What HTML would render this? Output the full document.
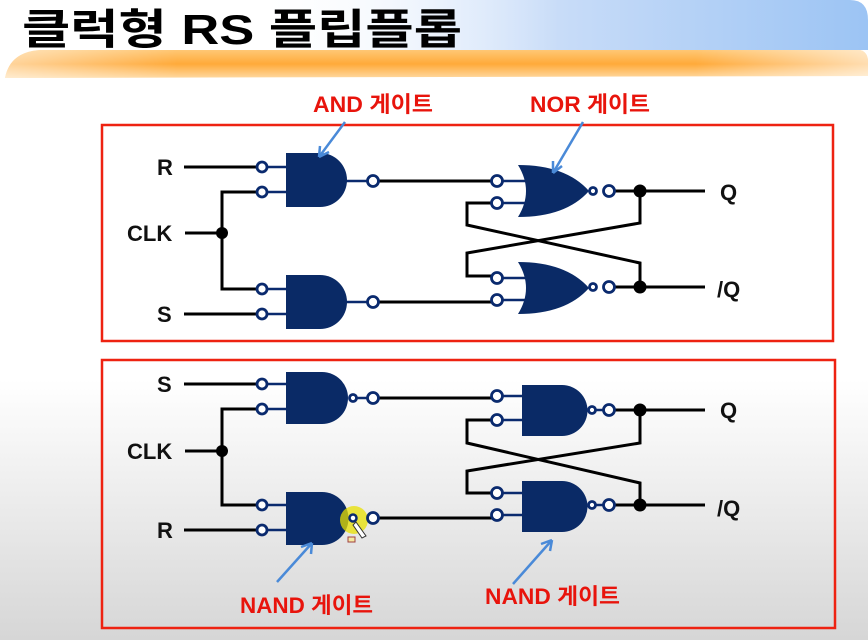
<!DOCTYPE html>
<html><head><meta charset="utf-8"><style>
html,body{margin:0;padding:0;width:868px;height:640px;overflow:hidden;}
body{background:linear-gradient(to bottom,#ffffff 0px,#ffffff 380px,#d6d6d6 640px);}
svg{display:block;}
</style></head><body>
<svg width="868" height="640" viewBox="0 0 868 640" xmlns="http://www.w3.org/2000/svg" font-family="'Liberation Sans','Noto Sans CJK KR',sans-serif">
<defs>
<linearGradient id="blue" x1="0" y1="0" x2="1" y2="0">
<stop offset="0" stop-color="#ffffff" stop-opacity="0"/>
<stop offset="0.5" stop-color="#c8dcf8"/>
<stop offset="1" stop-color="#9cc4f4"/>
</linearGradient>
<linearGradient id="orange" x1="0" y1="0" x2="0" y2="1">
<stop offset="0" stop-color="#ffc774"/>
<stop offset="0.5" stop-color="#ffaa3a"/>
<stop offset="1" stop-color="#ffd9a0"/>
</linearGradient>
<linearGradient id="orangeH" x1="0" y1="0" x2="1" y2="0">
<stop offset="0" stop-color="#ffffff" stop-opacity="0.5"/>
<stop offset="0.2" stop-color="#ffffff" stop-opacity="0"/>
<stop offset="0.8" stop-color="#ffffff" stop-opacity="0"/>
<stop offset="1" stop-color="#ffffff" stop-opacity="0.6"/>
</linearGradient>
</defs>
<path d="M250 0 H850 Q868 0 868 20 V50 H250 Z" fill="url(#blue)"/>
<path d="M5 78 Q10 52 40 50 H860 Q868 52 868 62 V76 Z" fill="url(#orange)"/>
<path d="M5 78 Q10 52 40 50 H860 Q868 52 868 62 V76 Z" fill="url(#orangeH)"/>
<text x="22" y="44" font-size="42" font-weight="bold" fill="#000" textLength="440" lengthAdjust="spacingAndGlyphs">클럭형 RS 플립플롭</text>

<rect x="102" y="125" width="731" height="216" fill="none" stroke="#ee2211" stroke-width="2.5"/>
<rect x="102" y="360" width="733" height="268" fill="none" stroke="#ee2211" stroke-width="2.5"/>

<g fill="#e8140c" font-weight="bold" font-size="22">
<text x="313" y="112" textLength="120" lengthAdjust="spacingAndGlyphs">AND 게이트</text>
<text x="530" y="112" textLength="120" lengthAdjust="spacingAndGlyphs">NOR 게이트</text>
<text x="240" y="613" textLength="133" lengthAdjust="spacingAndGlyphs">NAND 게이트</text>
<text x="485" y="604" textLength="135" lengthAdjust="spacingAndGlyphs">NAND 게이트</text>
</g>

<g fill="#111" font-weight="bold" font-size="22">
<text x="157" y="175">R</text>
<text x="127" y="241">CLK</text>
<text x="157" y="322">S</text>
<text x="720" y="200">Q</text>
<text x="717" y="297">/Q</text>
<text x="157" y="392">S</text>
<text x="127" y="459">CLK</text>
<text x="157" y="538">R</text>
<text x="720" y="418">Q</text>
<text x="717" y="516">/Q</text>
</g>

<g stroke="#000" stroke-width="3" fill="none">
<path d="M184 167 H262 M184 314 H262 M185 233 H222 M262 192 H222 V289 H262"/>
<path d="M373 181 H497 M373 302 H497"/>
<path d="M609 191 H705 M609 287 H705"/>
<path d="M497 203 H467 V225 L640 263 V287"/>
<path d="M497 276 H467 V253 L640 223 V191"/>
<path d="M184 384 H262 M184 530 H262 M185 451 H222 M262 409 H222 V505 H262"/>
<path d="M373 398 H497 M373 518 H497"/>
<path d="M609 410 H705 M609 505 H705"/>
<path d="M497 420 H467 V443 L640 483 V505"/>
<path d="M497 493 H467 V471 L640 443 V410"/>
</g>
<g fill="#000">
<circle cx="222" cy="233" r="6"/><circle cx="640" cy="191" r="6.5"/><circle cx="640" cy="287" r="6.5"/>
<circle cx="222" cy="451" r="6"/><circle cx="640" cy="410" r="6.5"/><circle cx="640" cy="505" r="6.5"/>
</g>

<g stroke="#0a2a6e" stroke-width="2.5" fill="none">
<path d="M262 167 H288 M262 192 H288 M262 289 H288 M262 314 H288"/>
<path d="M345 181 H373 M345 302 H373"/>
<path d="M497 181 H526 M497 203 H526 M497 278 H526 M497 300 H526"/>
<path d="M262 384 H288 M262 409 H288 M262 505 H288 M262 530 H288"/>
<path d="M497 396 H524 M497 420 H524 M497 493 H524 M497 515 H524"/>
<path d="M355 398 H373 M590 410 H609 M590 505 H609"/>
</g>

<g fill="#0a2a66">
<path d="M286 153 H320 A27 27 0 0 1 320 207 H286 Z"/>
<path d="M286 275 H320 A27 27 0 0 1 320 329 H286 Z"/>
<path d="M286 372 H322 A26 26 0 0 1 322 424 H286 Z"/>
<path d="M286 492 H322 A26.5 26.5 0 0 1 322 545 H286 Z"/>
<path d="M522 385 H562 A25.5 25.5 0 0 1 562 436 H522 Z"/>
<path d="M522 481 H562 A25.5 25.5 0 0 1 562 532 H522 Z"/>
<path d="M518 165 Q534 191 518 217 Q566 217 589 191 Q566 165 518 165 Z"/>
<path d="M518 262 Q534 288 518 314 Q566 314 589 288 Q566 262 518 262 Z"/>
</g>

<g fill="#fff" stroke="#0a2a6e" stroke-width="2.8">
<circle cx="262" cy="167" r="5"/><circle cx="262" cy="192" r="5"/>
<circle cx="262" cy="289" r="5"/><circle cx="262" cy="314" r="5"/>
<circle cx="373" cy="181" r="5.5"/><circle cx="373" cy="302" r="5.5"/>
<circle cx="497" cy="181" r="5.5"/><circle cx="497" cy="203" r="5.5"/>
<circle cx="497" cy="278" r="5.5"/><circle cx="497" cy="300" r="5.5"/>
<circle cx="593" cy="191" r="3.5"/><circle cx="609" cy="191" r="5.5"/>
<circle cx="593" cy="287" r="3.5"/><circle cx="609" cy="287" r="5.5"/>
<circle cx="262" cy="384" r="5"/><circle cx="262" cy="409" r="5"/>
<circle cx="262" cy="505" r="5"/><circle cx="262" cy="530" r="5"/>
<circle cx="353" cy="398" r="3.5"/><circle cx="373" cy="398" r="5.5"/>
<circle cx="497" cy="396" r="5.5"/><circle cx="497" cy="420" r="5.5"/>
<circle cx="497" cy="493" r="5.5"/><circle cx="497" cy="515" r="5.5"/>
<circle cx="592" cy="410" r="3.5"/><circle cx="609" cy="410" r="5.5"/>
<circle cx="592" cy="505" r="3.5"/><circle cx="609" cy="505" r="5.5"/>
</g>
<circle cx="354" cy="520" r="14" fill="#e8e000" opacity="0.75"/>
<circle cx="353" cy="518" r="3.5" fill="#fff" stroke="#0a2a6e" stroke-width="2.5"/>
<circle cx="373" cy="518" r="5.5" fill="#fff" stroke="#0a2a6e" stroke-width="2.8"/>
<path d="M356 522 L366 536 L362 538 L353 525 Z" fill="#fff" stroke="#333" stroke-width="1"/>
<rect x="348" y="537" width="7" height="5" fill="#f4e8a0" stroke="#a04040" stroke-width="1"/>

<g stroke="#4a8ad8" stroke-width="2.5" fill="none">
<path d="M345 122 L319 157 M319 157 L320 146 M319 157 L329 152"/>
<path d="M583 122 L553 173 M553 173 L553 161 M553 173 L562 166"/>
<path d="M277 582 L312 543 M312 543 L301 547 M312 543 L311 554"/>
<path d="M513 584 L552 540 M552 540 L541 544 M552 540 L550 551"/>
</g>
</svg>
</body></html>
